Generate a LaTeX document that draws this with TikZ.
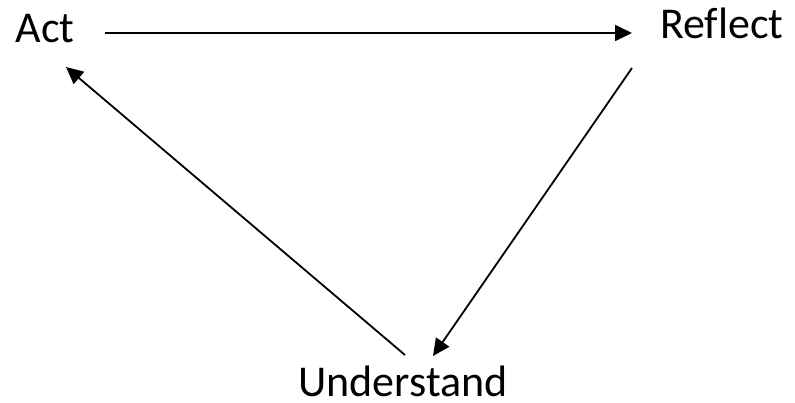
\documentclass[tikz,border=0pt]{standalone}
\usepackage{fontspec}
\setmainfont[Ligatures=NoCommon]{Carlito}
\usetikzlibrary{arrows.meta}
\begin{document}
\begin{tikzpicture}[x=1pt,y=-1pt,
  lbl/.style={font=\fontsize{44}{50}\selectfont, inner sep=0pt, anchor=base},
  link/.style={line width=1.8pt, -{Triangle[length=17pt,width=16pt]}}]
\useasboundingbox (0,0) rectangle (795,403);
\node[lbl] (act) at (45,43) {Act};
\node[lbl] (reflect) at (722,39) {Ref\kern0pt lect};
\node[lbl] (understand) at (403,396) {Understand};
\coordinate (a1) at (105,33);
\coordinate (r0) at (632,33);
\coordinate (r1) at (632,68);
\coordinate (u0) at (433,356);
\coordinate (u1) at (405,355);
\coordinate (a0) at (66,67);
\draw[link] (a1) -- (r0);
\draw[link] (r1) -- (u0);
\draw[link] (u1) -- (a0);
\end{tikzpicture}
\end{document}
